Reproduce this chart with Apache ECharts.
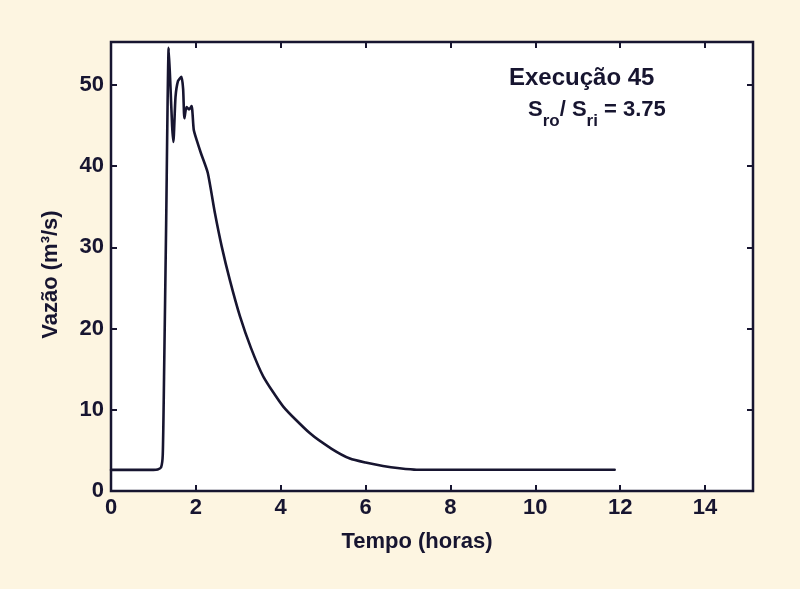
<!DOCTYPE html>
<html>
<head>
<meta charset="utf-8">
<script src="https://cdn.jsdelivr.net/npm/echarts@6/dist/echarts.min.js"></script>
<style>
html,body{margin:0;padding:0;background:#fdf5e1;}
#chart{width:800px;height:589px;}
</style>
</head>
<body>
<div id="chart"></div>
<script>
// Time (hours) and discharge (m3/s)
const tempo = [0, 1.0, 1.1, 1.18, 1.22, 1.25, 1.30, 1.36, 1.40, 1.44, 1.47, 1.52, 1.58, 1.66, 1.70, 1.73, 1.78, 1.84, 1.90, 1.95, 2.02, 2.12, 2.28, 2.45, 2.61, 2.80, 3.04, 3.30, 3.59, 4.06, 4.69, 5.2, 5.63, 6.0, 6.41, 6.8, 7.2, 11.87];
const vazao = [2.6, 2.6, 2.65, 2.9, 4.5, 14, 33, 54.6, 50, 45, 43.0, 48.5, 50.5, 51.0, 49.5, 45.9, 47.3, 47.0, 47.4, 44.5, 43.2, 41.6, 39.2, 34.2, 30.1, 26.0, 21.5, 17.6, 14.1, 10.4, 7.1, 5.2, 4.0, 3.5, 3.08, 2.8, 2.62, 2.62];
const xTicks = [0, 2, 4, 6, 8, 10, 12, 14];
const yTicks = [0, 10, 20, 30, 40, 50];
const labelExec = 'Execução 45';
const ratioValue = '3.75';

const ink = '#171530';
const font = '"Liberation Sans", Arial, sans-serif';
const chart = echarts.init(document.getElementById('chart'));
const xMax = 15.13, yMax = 55.3;
const tickStyle = {show: true, inside: true, length: 6, lineStyle: {color: ink, width: 2}};
const hiddenLine = {show: false, onZero: false};
chart.setOption({
  backgroundColor: '#fdf5e1',
  animation: false,
  grid: {left: 111, right: 47, top: 42, bottom: 98, show: true, backgroundColor: '#ffffff', borderColor: ink, borderWidth: 2.5},
  xAxis: [{
    type: 'value', min: 0, max: xMax, interval: 2,
    axisLine: hiddenLine, splitLine: {show: false},
    axisTick: tickStyle,
    axisLabel: {color: ink, fontFamily: font, fontWeight: 'bold', fontSize: 22, margin: 6,
      formatter: v => xTicks.includes(v) ? String(v) : ''},
    name: 'Tempo (horas)', nameLocation: 'middle', nameGap: 40,
    nameTextStyle: {color: ink, fontFamily: font, fontWeight: 'bold', fontSize: 22, padding: [0, 30, 0, 0]}
  }, {
    type: 'value', position: 'top', min: 0, max: xMax, interval: 2,
    axisLine: hiddenLine, splitLine: {show: false}, axisTick: tickStyle, axisLabel: {show: false}
  }],
  yAxis: [{
    type: 'value', min: 0, max: yMax, interval: 10,
    axisLine: hiddenLine, splitLine: {show: false},
    axisTick: tickStyle,
    axisLabel: {color: ink, fontFamily: font, fontWeight: 'bold', fontSize: 22, margin: 7,
      formatter: v => yTicks.includes(v) ? String(v) : ''},
    name: 'Vazão (m³/s)', nameLocation: 'middle', nameGap: 49, nameRotate: 90,
    nameTextStyle: {color: ink, fontFamily: font, fontWeight: 'bold', fontSize: 22, padding: [0, 16, 0, 0]}
  }, {
    type: 'value', position: 'right', min: 0, max: yMax, interval: 10,
    axisLine: hiddenLine, splitLine: {show: false}, axisTick: tickStyle, axisLabel: {show: false}
  }],
  graphic: [{
    type: 'text', left: 509, top: 66,
    style: {text: labelExec, fill: ink, font: 'bold 24px ' + font}
  }, {
    type: 'text', left: 528, top: 99,
    style: {
      text: '{m|S}{s|ro}{m|/ S}{s|ri}{m| = ' + ratioValue + '}',
      rich: {
        m: {fill: ink, fontFamily: font, fontWeight: 'bold', fontSize: 22, verticalAlign: 'top', lineHeight: 24},
        s: {fill: ink, fontFamily: font, fontWeight: 'bold', fontSize: 17, verticalAlign: 'bottom', lineHeight: 31}
      }
    }
  }],
  series: [{
    type: 'line', xAxisIndex: 0, yAxisIndex: 0,
    data: tempo.map((t, i) => [t, vazao[i]]),
    showSymbol: false, smooth: 0.2,
    lineStyle: {color: ink, width: 2.6, join: 'round', cap: 'round'}
  }]
});
</script>
</body>
</html>
